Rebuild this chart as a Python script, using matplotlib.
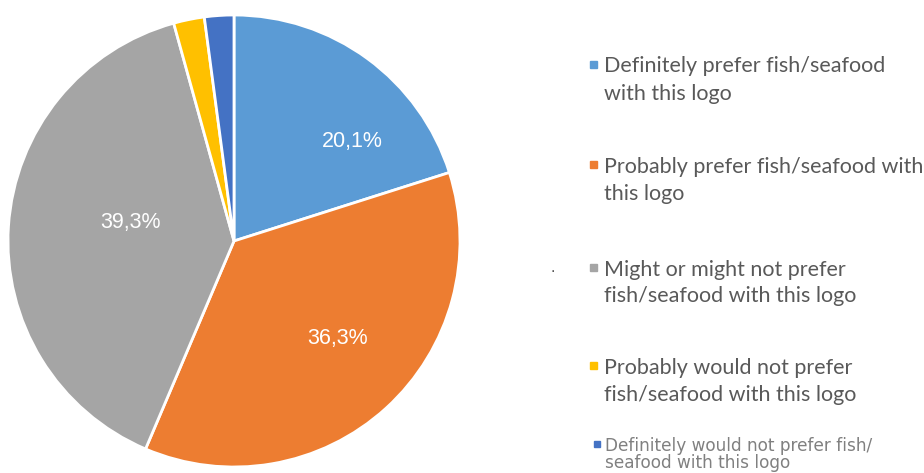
import matplotlib.pyplot as plt
from matplotlib.patches import Rectangle

# data
categories = [
    "Definitely prefer fish/seafood\nwith this logo",
    "Probably prefer fish/seafood with\nthis logo",
    "Might or might not prefer\nfish/seafood with this logo",
    "Probably would not prefer\nfish/seafood with this logo",
    "Definitely would not prefer fish/\nseafood with this logo",
]
shares = [20.1, 36.3, 39.3, 2.2, 2.1]
pct_labels = ["20,1%", "36,3%", "39,3%", "", ""]
colors = ["#5B9BD5", "#ED7D31", "#A5A5A5", "#FFC000", "#4472C4"]

# layout
W, H = 924, 473
label_pos = [(0.522, 0.442), (0.46, -0.43), (-0.46, 0.08), None, None]
legend_y = [78, 178, 281, 379, 452]      # pixel centre of each entry (from top)
line_gap = [27, 27, 27, 27, 17]          # distance between the two lines
legend_size = [15.5, 15.5, 15.5, 15.5, 12.2]
legend_font = ["Lato", "Lato", "Lato", "Lato", "DejaVu Sans"]
legend_col = ["#595959", "#595959", "#595959", "#595959", "#808080"]
marker_x = [593, 593, 593, 593, 597]
text_x = [604, 604, 604, 604, 605]

fig = plt.figure(figsize=(W / 100, H / 100), dpi=100)
cx, cy, r = 234, 241, 226
ax = fig.add_axes([(cx - r) / W, (H - cy - r) / H, 2 * r / W, 2 * r / H])
ax.pie(shares, colors=colors, startangle=90, counterclock=False, radius=1,
       wedgeprops=dict(edgecolor="white", linewidth=2))
ax.set_xlim(-1, 1)
ax.set_ylim(-1, 1)
ax.set_aspect("equal")
ax.axis("off")

for txt, pos in zip(pct_labels, label_pos):
    if pos is None:
        continue
    ax.text(pos[0], pos[1], txt, color="white", fontsize=15.5,
            family="Liberation Sans", ha="center", va="center")

# hand-drawn legend, each line placed on its own
for i, lab in enumerate(categories):
    l1, l2 = lab.split("\n")
    y1 = legend_y[i] - line_gap[i] / 2
    y2 = legend_y[i] + line_gap[i] / 2
    sq = 7 if i < 4 else 6
    fig.patches.append(Rectangle(((marker_x[i] - sq / 2) / W, (H - y1 - sq / 2) / H),
                                 sq / W, sq / H, color=colors[i],
                                 transform=fig.transFigure, figure=fig))
    for line, yy in ((l1, y1), (l2, y2)):
        fig.text(text_x[i] / W, (H - yy) / H, line, fontsize=legend_size[i],
                 family=legend_font[i], color=legend_col[i],
                 va="center_baseline", ha="left")

fig.text(553 / W, (H - 268) / H, ".", fontsize=10, color="#404040",
         ha="center", va="center")

fig.savefig("out.png", dpi=100, facecolor="white")
